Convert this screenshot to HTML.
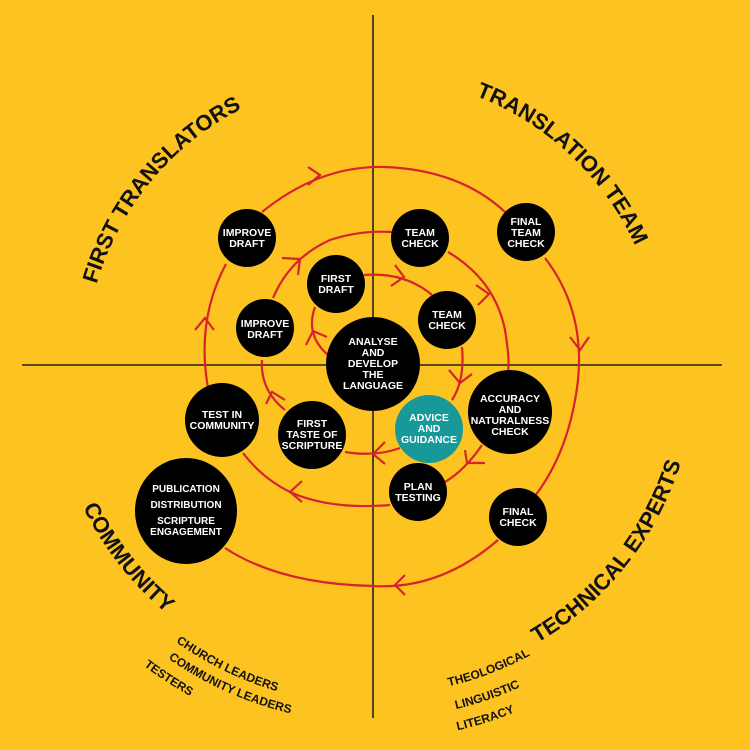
<!DOCTYPE html>
<html><head><meta charset="utf-8"><style>
html,body{margin:0;padding:0;background:#fcc321}
svg{display:block}
.n{fill:#000}
.t{fill:#fff;font-family:"Liberation Sans",sans-serif;font-weight:bold;font-size:10.5px;text-anchor:middle}
.r{fill:none;stroke:#d8232a;stroke-width:2.2}
.big{font-family:"Liberation Sans",sans-serif;font-weight:bold;font-size:22px;fill:#111;text-anchor:middle}
.sm{font-family:"Liberation Sans",sans-serif;font-weight:bold;font-size:12px;fill:#111;text-anchor:middle}
</style></head><body>
<svg width="750" height="750" viewBox="0 0 750 750" xmlns="http://www.w3.org/2000/svg">
<rect width="750" height="750" fill="#fcc321"/>
<defs>
<path id="top" d="M85,365 A288,288 0 1 1 661,365 A288,288 0 1 1 85,365"/>
<path id="bot" d="M50,365 A323,323 0 1 0 696,365 A323,323 0 1 0 50,365"/>
<path id="c1" d="M33,365 A340,340 0 1 0 713,365 A340,340 0 1 0 33,365"/>
<path id="c2" d="M15,365 A358,358 0 1 0 731,365 A358,358 0 1 0 15,365"/>
<path id="c3" d="M-5,365 A378,378 0 1 0 751,365 A378,378 0 1 0 -5,365"/>
<path id="d1" d="M43,365 A330,330 0 1 0 703,365 A330,330 0 1 0 43,365"/>
<path id="d2" d="M19,365 A354,354 0 1 0 727,365 A354,354 0 1 0 19,365"/>
<path id="d3" d="M-2,365 A375,375 0 1 0 748,365 A375,375 0 1 0 -2,365"/>
</defs>
<line x1="373" y1="15" x2="373" y2="718" stroke="#222" stroke-width="1.6"/>
<line x1="22" y1="365" x2="722" y2="365" stroke="#222" stroke-width="1.6"/>

<path class="r" d="M208,388 Q196,320 226,264"/>
<path class="r" d="M262,212 Q320,165 385,167 Q460,170 505,212"/>
<path class="r" d="M545,258 Q585,310 578,380 Q570,450 535,496"/>
<path class="r" d="M498,540 Q440,590 373,586 Q280,584 225,548"/>
<path class="r" d="M390,505 Q330,510 290,492 Q262,478 243,453"/>
<path class="r" d="M285,410 Q260,390 262,360"/>
<path class="r" d="M273,298 Q290,258 330,240 Q360,230 392,232"/>
<path class="r" d="M448,252 Q495,280 505,330 Q510,360 508,372"/>
<path class="r" d="M482,445 Q465,470 445,482"/>
<path class="r" d="M364,275 Q405,272 432,295"/>
<path class="r" d="M462,347 Q465,380 452,400"/>
<path class="r" d="M400,448 Q375,457 345,452"/>
<path class="r" d="M328,355 Q305,335 315,307"/>

<g class="r">
<polyline points="308,167 320,175 308,185"/>
<polyline points="570,337 580,350 589,337"/>
<polyline points="405,575 395,585 405,595"/>
<polyline points="195,330 205,318 214,330"/>
<polyline points="282,258 300,259 298,275"/>
<polyline points="476,285 489,294 478,305"/>
<polyline points="449,370 460,383 472,374"/>
<polyline points="465,450 467,463 485,463"/>
<polyline points="302,481 290,492 302,502"/>
<polyline points="266,404 272,392 285,400"/>
<polyline points="395,265 404,277 391,286"/>
<polyline points="385,442 373,454 385,464"/>
<polyline points="306,345 313,331 327,337"/>
</g>

<circle class="n" cx="247" cy="238" r="29"/>
<circle class="n" cx="420" cy="238" r="29"/>
<circle class="n" cx="526" cy="232" r="29"/>
<circle class="n" cx="336" cy="284" r="29"/>
<circle class="n" cx="265" cy="328" r="29"/>
<circle class="n" cx="447" cy="320" r="29"/>
<circle class="n" cx="373" cy="364" r="47"/>
<circle class="n" cx="510" cy="412" r="42"/>
<circle cx="429" cy="429" r="34" fill="#17999a"/>
<circle class="n" cx="222" cy="420" r="37"/>
<circle class="n" cx="312" cy="435" r="34"/>
<circle class="n" cx="418" cy="492" r="29"/>
<circle class="n" cx="518" cy="517" r="29"/>
<ellipse class="n" cx="186" cy="511" rx="51" ry="53"/>

<g class="t">
<text x="247" y="236">IMPROVE<tspan x="247" dy="11">DRAFT</tspan></text>
<text x="420" y="236">TEAM<tspan x="420" dy="11">CHECK</tspan></text>
<text x="526" y="225">FINAL<tspan x="526" dy="11">TEAM</tspan><tspan x="526" dy="11">CHECK</tspan></text>
<text x="336" y="282">FIRST<tspan x="336" dy="11">DRAFT</tspan></text>
<text x="265" y="327">IMPROVE<tspan x="265" dy="11">DRAFT</tspan></text>
<text x="447" y="318">TEAM<tspan x="447" dy="11">CHECK</tspan></text>
<text x="373" y="345">ANALYSE<tspan x="373" dy="11">AND</tspan><tspan x="373" dy="11">DEVELOP</tspan><tspan x="373" dy="11">THE</tspan><tspan x="373" dy="11">LANGUAGE</tspan></text>
<text x="510" y="402">ACCURACY<tspan x="510" dy="11">AND</tspan><tspan x="510" dy="11">NATURALNESS</tspan><tspan x="510" dy="11">CHECK</tspan></text>
<text x="429" y="421">ADVICE<tspan x="429" dy="11">AND</tspan><tspan x="429" dy="11">GUIDANCE</tspan></text>
<text x="222" y="418">TEST IN<tspan x="222" dy="11">COMMUNITY</tspan></text>
<text x="312" y="427">FIRST<tspan x="312" dy="11">TASTE OF</tspan><tspan x="312" dy="11">SCRIPTURE</tspan></text>
<text x="418" y="490">PLAN<tspan x="418" dy="11">TESTING</tspan></text>
<text x="518" y="515">FINAL<tspan x="518" dy="11">CHECK</tspan></text>
<text x="186" y="492" font-size="10">PUBLICATION<tspan x="186" dy="16">DISTRIBUTION</tspan><tspan x="186" dy="16">SCRIPTURE</tspan><tspan x="186" dy="11">ENGAGEMENT</tspan></text>
</g>

<text class="big"><textPath href="#top" startOffset="11%">FIRST TRANSLATORS</textPath></text>
<text class="big"><textPath href="#top" startOffset="37%">TRANSLATION TEAM</textPath></text>
<text class="big"><textPath href="#bot" startOffset="10.6%">COMMUNITY</textPath></text>
<text class="big"><textPath href="#bot" startOffset="39.3%">TECHNICAL EXPERTS</textPath></text>

<text class="sm"><textPath href="#c1" startOffset="17.8%">CHURCH LEADERS</textPath></text>
<text class="sm"><textPath href="#c2" startOffset="18.3%">COMMUNITY LEADERS</textPath></text>
<text class="sm"><textPath href="#c3" startOffset="15.8%">TESTERS</textPath></text>
<text class="sm"><textPath href="#d1" startOffset="30.8%">THEOLOGICAL</textPath></text>
<text class="sm"><textPath href="#d2" startOffset="30.3%">LINGUISTIC</textPath></text>
<text class="sm"><textPath href="#d3" startOffset="29.9%">LITERACY</textPath></text>
</svg>
</body></html>
